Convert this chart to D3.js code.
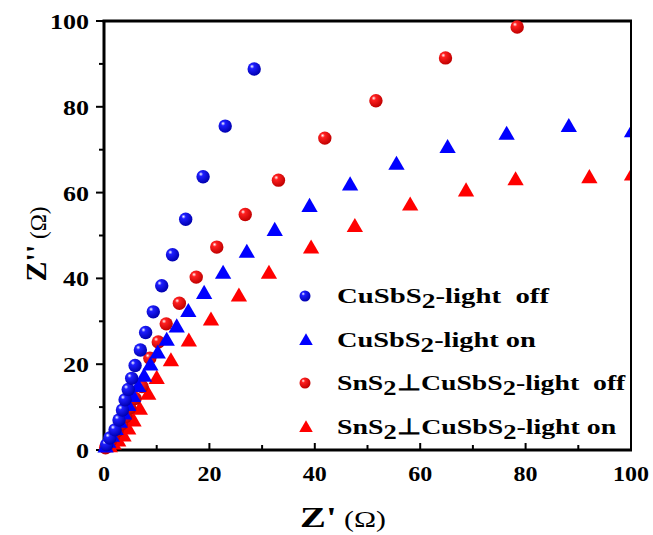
<!DOCTYPE html>
<html><head><meta charset="utf-8">
<script src="https://cdn.jsdelivr.net/npm/d3@7"></script>
<style>body{margin:0;background:#fff}</style>
</head><body>
<script>
// ---- data ----
const xTicks = [0, 20, 40, 60, 80, 100];
const yTicks = [0, 20, 40, 60, 80, 100];
const seriesNames = ["CuSbS2-light  off", "CuSbS2-light on", "SnS2⊥CuSbS2-light  off", "SnS2⊥CuSbS2-light on"];

const cuOffX = [0.5, 1.1, 2.1, 2.85, 3.5, 4.0, 4.6, 5.25, 5.9, 6.9, 7.9, 9.35, 10.95, 13.0, 15.5, 18.8, 23.0, 28.5];
const cuOffY = [1.2, 2.8, 4.7, 7.0, 9.3, 11.7, 14.1, 16.7, 19.7, 23.3, 27.4, 32.2, 38.3, 45.5, 53.8, 63.7, 75.5, 88.8];

const cuOnX = [0.3, 0.8, 1.5, 2.2, 3.0, 3.8, 4.6, 5.5, 6.5, 7.6, 8.8, 10.2, 11.9, 13.8, 16.0, 19.0, 22.6, 27.1, 32.4, 39.0, 46.7, 55.5, 65.2, 76.4, 88.2, 100.2];
const cuOnY = [0.5, 1.6, 3.0, 4.6, 6.3, 8.2, 10.2, 12.3, 14.6, 17.0, 19.6, 22.4, 25.4, 28.5, 32.1, 36.3, 41.0, 45.9, 51.0, 56.6, 61.6, 66.4, 70.3, 73.4, 75.2, 74.0];

const snOffX = [0.3, 0.7, 1.2, 1.8, 2.5, 3.3, 4.1, 4.9, 5.9, 7.2, 8.7, 10.3, 11.8, 14.3, 17.5, 21.4, 26.8, 33.1, 41.9, 51.6, 64.8, 78.4];
const snOffY = [0.5, 1.2, 2.1, 3.2, 4.5, 6.0, 7.8, 9.8, 12.0, 14.8, 21.4, 25.2, 29.4, 34.2, 40.3, 47.3, 54.9, 62.9, 72.7, 81.4, 91.4, 98.6];

const snOnX = [1.1, 1.8, 2.7, 3.7, 4.6, 5.6, 6.8, 8.4, 10.0, 12.7, 16.1, 20.3, 25.6, 31.3, 39.3, 47.6, 58.1, 68.7, 78.1, 92.1, 100.2];
const snOnY = [0.6, 1.2, 1.9, 3.1, 4.7, 6.6, 9.3, 12.8, 16.5, 20.6, 25.2, 30.1, 35.7, 41.0, 46.9, 51.9, 56.9, 60.2, 62.8, 63.3, 63.9];

// ---- layout ----
const W = 653, H = 535;
const m = {left: 104, right: 631, top: 21, bottom: 450};
const svg = d3.select("body").append("svg").attr("width", W).attr("height", H)
  .style("font-family", "'Liberation Serif','Times New Roman',serif");

const x = d3.scaleLinear().domain([0, 100]).range([m.left, m.right]);
const y = d3.scaleLinear().domain([0, 100]).range([m.bottom, m.top]);

// stretch a text element horizontally so that its width equals target, about anchor point (ax, ay)
function stretch(t, target, ax, ay) {
  const w = t.node().getBBox().width;
  const s = target / w;
  t.attr("transform", `translate(${ax},${ay}) scale(${s},1)`);
}

const defs = svg.append("defs");
function grad(id, base, dark) {
  const g = defs.append("radialGradient").attr("id", id).attr("cx", "0.38").attr("cy", "0.35").attr("r", "0.65").attr("fx", "0.33").attr("fy", "0.3");
  g.append("stop").attr("offset", "0").attr("stop-color", "#ffffff");
  g.append("stop").attr("offset", "0.25").attr("stop-color", base);
  g.append("stop").attr("offset", "1").attr("stop-color", dark);
}
grad("gBlue", "#1e1eff", "#0000b0");
grad("gRed", "#ff2020", "#c00000");

defs.append("clipPath").attr("id", "clip").append("rect")
  .attr("x", m.left - 20).attr("y", 0).attr("width", m.right - m.left + 19).attr("height", m.bottom + 20);

// ---- axes ----
const gx = svg.append("g").attr("transform", `translate(0,${m.bottom})`);
gx.selectAll("line.tk").data(d3.range(10, 100, 10)).join("line").attr("class", "tk")
  .attr("x1", d => x(d)).attr("x2", d => x(d)).attr("y1", 0).attr("y2", d => d % 20 === 0 ? -7 : -5)
  .attr("stroke", "#000").attr("stroke-width", 2);
gx.selectAll("text").data(xTicks).join("text")
  .attr("x", 0).attr("y", 0).attr("text-anchor", "middle")
  .attr("font-size", 22).attr("font-weight", "bold").text(d => d)
  .each(function(d) { stretch(d3.select(this), String(d).length * 12, x(d), 31); });

const gy = svg.append("g");
gy.selectAll("line.tk").data(d3.range(0, 101, 10)).join("line").attr("class", "tk")
  .attr("y1", d => y(d)).attr("y2", d => y(d)).attr("x1", m.left).attr("x2", d => m.left - (d % 20 === 0 ? 8 : 5))
  .attr("stroke", "#000").attr("stroke-width", 2);
gy.selectAll("text").data(yTicks).join("text")
  .attr("x", 0).attr("y", 0).attr("text-anchor", "end")
  .attr("font-size", 22).attr("font-weight", "bold").text(d => d)
  .each(function(d) { stretch(d3.select(this), String(d).length * 13, 89, y(d) + 8); });

// frame
svg.append("line").attr("x1", m.left).attr("x2", m.left).attr("y1", m.top - 1).attr("y2", m.bottom + 1.5).attr("stroke", "#000").attr("stroke-width", 3);
svg.append("line").attr("x1", m.left - 1.5).attr("x2", m.right + 1).attr("y1", m.bottom).attr("y2", m.bottom).attr("stroke", "#000").attr("stroke-width", 3);
svg.append("line").attr("x1", m.left - 1.5).attr("x2", m.right + 1).attr("y1", m.top).attr("y2", m.top).attr("stroke", "#000").attr("stroke-width", 3);
svg.append("line").attr("x1", m.right).attr("x2", m.right).attr("y1", m.top).attr("y2", m.bottom).attr("stroke", "#000").attr("stroke-width", 2);

// ---- series ----
const tri = d3.symbol().type(d3.symbolTriangle);
const plot = svg.append("g").attr("clip-path", "url(#clip)");
function drawCircles(xs, ys, fill) {
  plot.append("g").selectAll("circle").data(xs.map((v, i) => [v, ys[i]])).join("circle")
    .attr("cx", d => x(d[0])).attr("cy", d => y(d[1])).attr("r", 6.7).attr("fill", fill);
}
function drawTris(xs, ys, fill) {
  plot.append("g").selectAll("path").data(xs.map((v, i) => [v, ys[i]])).join("path")
    .attr("d", tri.size(115)()).attr("transform", d => `translate(${x(d[0])},${y(d[1])})`).attr("fill", fill);
}
drawTris(snOnX, snOnY, "#ff0000");
drawCircles(snOffX, snOffY, "url(#gRed)");
drawTris(cuOnX, cuOnY, "#0000ff");
drawCircles(cuOffX, cuOffY, "url(#gBlue)");

// ---- legend ----
const legY = [296, 340, 383, 427];
const legW = [213, 199, 289, 279];
const leg = svg.append("g");
const legendMarks = [["c", "url(#gBlue)"], ["t", "#0000ff"], ["c", "url(#gRed)"], ["t", "#ff0000"]];
legendMarks.forEach((mk, i) => {
  if (mk[0] === "c") leg.append("circle").attr("cx", 305).attr("cy", legY[i]).attr("r", 5.5).attr("fill", mk[1]);
  else leg.append("path").attr("d", tri.size(80)()).attr("transform", `translate(306,${legY[i] + 1})`).attr("fill", mk[1]);
  const t = leg.append("text").attr("x", 0).attr("y", 0).attr("font-size", 22).attr("font-weight", "bold");
  const parts = seriesNames[i].split(/(2)/);
  let sub = false;
  parts.forEach(p => {
    if (p === "2") { t.append("tspan").attr("font-size", 21).attr("dy", 5).text("2"); sub = true; }
    else if (p) {
      const sp = t.append("tspan").text(p.replace(/ /g, "\u00a0"));
      if (sub) { sp.attr("dy", -5); sub = false; }
    }
  });
  stretch(t, legW[i], 337, legY[i] + 7);
});

// ---- axis titles ----
const xt = svg.append("text").attr("x", 0).attr("y", 0).attr("text-anchor", "middle").attr("font-weight", "bold");
xt.append("tspan").attr("font-size", 30).text("Z'");
xt.append("tspan").attr("font-size", 23).attr("font-weight", "normal").text(" (Ω)");
stretch(xt, 86, 343, 527);

const yt = svg.append("text").attr("transform", "translate(46,244) rotate(-90)").attr("text-anchor", "middle").attr("font-weight", "bold");
yt.append("tspan").attr("font-size", 30).text("Z''");
yt.append("tspan").attr("font-size", 23).attr("font-weight", "normal").text(" (Ω)");
</script>
</body></html>
